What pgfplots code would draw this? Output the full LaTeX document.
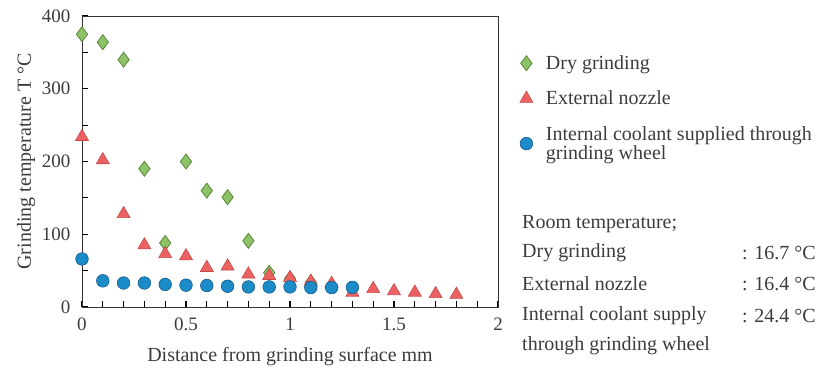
\documentclass[border=0pt]{standalone}
\usepackage{pgfplots}
\pgfplotsset{compat=1.18}
\usepackage{fontspec}
\setmainfont{Liberation Serif}
\definecolor{dryF}{RGB}{141,195,102}
\definecolor{dryD}{RGB}{88,136,58}
\definecolor{extF}{RGB}{236,98,98}
\definecolor{extD}{RGB}{200,72,72}
\definecolor{intF}{RGB}{28,140,200}
\definecolor{intD}{RGB}{20,90,140}
\definecolor{txt}{RGB}{60,60,60}
\begin{document}
\begin{tikzpicture}
\path[use as bounding box] (-82pt,-63pt) rectangle (742pt,307pt);
\begin{axis}[
  at={(0pt,0pt)}, anchor=south west,
  scale only axis, width=416pt, height=291pt,
  xmin=0, xmax=2, ymin=0, ymax=400,
  xtick={0,0.5,1,1.5,2}, ytick={0,100,200,300,400},
  minor xtick={0.1,0.2,...,1.9}, minor ytick={50,150,250,350},
  xticklabels={0,0.5,1,1.5,2}, yticklabels={0,100,200,300,400},
  tick pos=left, tick align=inside,
  major tick length=6pt, minor tick length=6pt,
  xtick style={draw=black, line width=1.1pt},
  ytick style={draw=black, line width=1.1pt},
  axis line style={black!80, line width=0.9pt},
  tick label style={font=\fontsize{19}{22}\selectfont, text=txt},
  xticklabel style={yshift=-7pt},
  yticklabel style={xshift=-8pt},
  xlabel={Distance from grinding surface mm},
  ylabel={Grinding temperature T °C},
  label style={font=\fontsize{20}{24}\selectfont, text=txt},
  xlabel style={yshift=-10pt},
  ylabel style={yshift=0pt},
  clip=false,
  legend style={draw=none, fill=none, at={(1.045,0.875)}, anchor=north west,
    font=\fontsize{20}{18}\selectfont, text=txt, row sep=18pt,
    nodes={align=left, inner sep=1pt},
    /tikz/every odd column/.append style={column sep=12pt}},
  legend cell align=left,
]
\pgfplotsinvokeforeach{0.1,0.2,0.3,0.4,0.5,0.6,0.7,0.8,0.9,1.0,1.1,1.2,1.3,1.4,1.5,1.6,1.7,1.8,1.9}{
  \draw[black, line width=1.1pt] (axis cs:#1,0) -- ([yshift=6pt]axis cs:#1,0);
}
\pgfplotsinvokeforeach{50,100,150,200,250,300,350}{
  \draw[black, line width=1.1pt] (axis cs:0,#1) -- ([xshift=6pt]axis cs:0,#1);
}
\addplot[only marks, mark=diamond*, mark size=7.5pt, mark options={fill=dryF, draw=dryD, line width=0.8pt}]
 coordinates {(0,375) (0.1,364) (0.2,340) (0.3,190) (0.4,88) (0.5,200) (0.6,160) (0.7,151) (0.8,91) (0.9,47) (1.0,39) (1.1,34) (1.2,30)};
\addlegendentry{Dry grinding}
\addplot[only marks, mark=triangle*, mark size=7.5pt, mark options={fill=extF, draw=extD, line width=0.6pt}]
 coordinates {(0,234) (0.1,202) (0.2,128) (0.3,85) (0.4,73) (0.5,70) (0.6,54) (0.7,56) (0.8,45) (0.9,43) (1.0,40) (1.1,35) (1.2,32) (1.3,20) (1.4,25) (1.5,22) (1.6,20) (1.7,18) (1.8,17)};
\addlegendentry{External nozzle}
\addplot[only marks, mark=*, mark size=6.3pt, mark options={fill=intF, draw=intD, line width=0.6pt}]
 coordinates {(0,66) (0.1,36) (0.2,33) (0.3,33) (0.4,31) (0.5,30) (0.6,29.5) (0.7,28.5) (0.8,27.6) (0.9,27.6) (1.0,27.6) (1.1,26.7) (1.2,26.7) (1.3,27)};
\addlegendentry{Internal coolant supplied through\\grinding wheel}
\end{axis}
\begin{scope}[every node/.style={anchor=west, inner sep=0pt, text=txt, font=\fontsize{20}{24}\selectfont}]
\node at (440pt,83pt) {Room temperature;};
\node at (440pt,54pt) {Dry grinding};
\node at (440pt,23pt) {External nozzle};
\node at (440pt,-9pt) {Internal coolant supply};
\node at (440pt,-39pt) {through grinding wheel};
\node at (660pt,54pt) {: 16.7 °C};
\node at (660pt,23pt) {: 16.4 °C};
\node at (660pt,-9pt) {: 24.4 °C};
\end{scope}
\end{tikzpicture}
\end{document}
